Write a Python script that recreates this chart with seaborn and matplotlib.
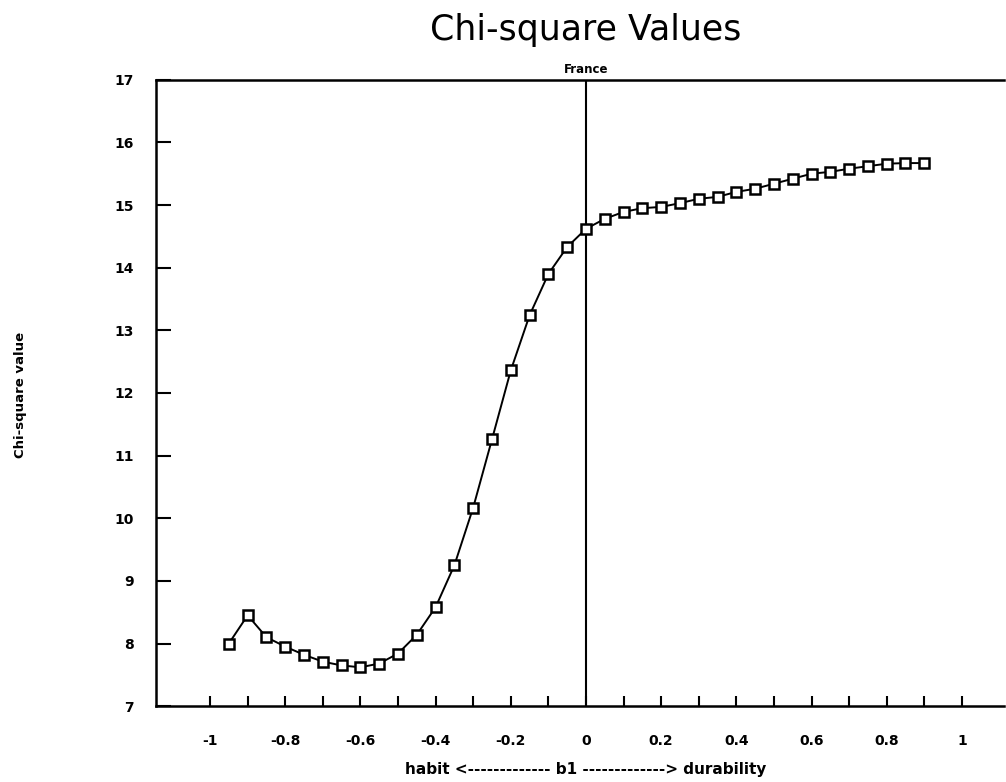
"""
Chi-square values against b1 for France, drawn as a line with open square markers.
"""

import matplotlib

matplotlib.use("Agg")
import matplotlib.pyplot as plt
from matplotlib.ticker import FixedLocator
import pandas as pd
import seaborn as sns

# b1 grid, -0.95 .. 0.9 in steps of 0.05
b1_values = [
    -0.95, -0.90, -0.85, -0.80, -0.75, -0.70, -0.65, -0.60, -0.55, -0.50,
    -0.45, -0.40, -0.35, -0.30, -0.25, -0.20, -0.15, -0.10, -0.05, 0.00,
    0.05, 0.10, 0.15, 0.20, 0.25, 0.30, 0.35, 0.40, 0.45, 0.50,
    0.55, 0.60, 0.65, 0.70, 0.75, 0.80, 0.85, 0.90,
]
chi_square = [
    8.00, 8.45, 8.10, 7.95, 7.82, 7.71, 7.65, 7.62, 7.68, 7.84,
    8.14, 8.58, 9.25, 10.17, 11.26, 12.36, 13.24, 13.90, 14.33, 14.62,
    14.78, 14.89, 14.95, 14.97, 15.03, 15.10, 15.13, 15.21, 15.26, 15.34,
    15.42, 15.50, 15.53, 15.58, 15.62, 15.66, 15.67, 15.67,
]
x_ticks = [-1, -0.8, -0.6, -0.4, -0.2, 0, 0.2, 0.4, 0.6, 0.8, 1]
x_tick_labels = ["-1", "-0.8", "-0.6", "-0.4", "-0.2", "0", "0.2", "0.4", "0.6", "0.8", "1"]
x_minor_ticks = [-0.9, -0.7, -0.5, -0.3, -0.1, 0.1, 0.3, 0.5, 0.7, 0.9]
y_ticks = list(range(7, 18))

df = pd.DataFrame({"b1": b1_values, "chi": chi_square})

sns.set_theme(style="white")
plt.rcParams["font.family"] = ["DejaVu Sans"]
plt.rcParams["text.color"] = "black"

fig = plt.figure(figsize=(10.06, 7.82), dpi=100)
ax = fig.add_axes([0.155, 0.097, 0.843, 0.801])

sns.lineplot(
    data=df,
    x="b1",
    y="chi",
    ax=ax,
    color="black",
    linewidth=1.4,
    marker="s",
    markersize=7.5,
    markerfacecolor="white",
    markeredgecolor="black",
    markeredgewidth=1.8,
)

ax.axvline(0, color="black", linewidth=1.5, zorder=1)

ax.set_xlim(-1.144, 1.112)
ax.set_ylim(7, 17)
ax.set_xticks(x_ticks)
ax.set_xticklabels(x_tick_labels)
ax.xaxis.set_minor_locator(FixedLocator(x_minor_ticks))
ax.set_yticks(y_ticks)

ax.tick_params(axis="x", which="both", direction="in", length=7, width=1.5,
               pad=20, labelsize=10, colors="black", bottom=True)
ax.tick_params(axis="y", which="major", direction="in", length=11, width=1.5,
               pad=16, labelsize=10, colors="black", left=True)
for lab in ax.get_xticklabels() + ax.get_yticklabels():
    lab.set_fontweight("bold")

for side in ["left", "bottom", "top"]:
    ax.spines[side].set_color("black")
    ax.spines[side].set_linewidth(1.8)
ax.spines["right"].set_visible(False)

ax.set_xlabel("")
ax.set_ylabel("")

fig.text(0.5825, 0.962, "Chi-square Values", ha="center", va="center",
         fontsize=25, color="black")
fig.text(0.5825, 0.911, "France", ha="center", va="center",
         fontsize=8.5, fontweight="bold", color="black")
fig.text(0.5825, 0.016, "habit <------------- b1 -------------> durability",
         ha="center", va="center", fontsize=11, fontweight="bold", color="black")
fig.text(0.02, 0.495, "Chi-square value", ha="center", va="center",
         rotation=90, fontsize=9.5, fontweight="bold", color="black")

fig.savefig("out.png", dpi=100)
plt.close(fig)
